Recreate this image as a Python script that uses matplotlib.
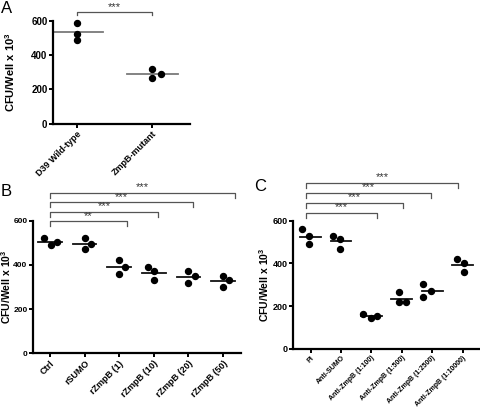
import numpy as np
import matplotlib
matplotlib.use("Agg")
import matplotlib.pyplot as plt
from matplotlib.transforms import blended_transform_factory

plt.rcParams['font.family'] = ['Liberation Sans', 'DejaVu Sans']
plt.rcParams['mathtext.fontset'] = 'custom'
plt.rcParams['mathtext.rm'] = 'Liberation Sans:bold'
plt.rcParams['mathtext.bf'] = 'Liberation Sans:bold'

# Panel A
a_labels = ['D39 Wild-type', 'ZmpB-mutant']
a_vals = [[585, 525, 485], [318, 268, 290]]
a_jit = [[0, 0, 0], [0, 0, 0.12]]
a_brackets = [(0, 1, 651, '***')]

# Panel B
b_labels = ['Ctrl', 'rSUMO', 'rZmpB (1)', 'rZmpB (10)', 'rZmpB (20)', 'rZmpB (50)']
b_vals = [[523, 489, 505], [520, 470, 495], [421, 360, 389],
          [390, 372, 330], [371, 348, 319], [351, 333, 300]]
b_jit = [[-0.16, 0.02, 0.21], [0, 0, 0.19], [0, 0, 0.17],
         [-0.18, 0, 0], [0, 0.19, 0], [0, 0.18, 0]]
b_brackets = [(0, 2.22, 598, '**'), (0, 3.12, 641, '***'),
              (0, 4.13, 685, '***'), (0, 5.35, 727, '***')]

# Panel C
c_labels = ['PI', 'Anti-SUMO', 'Anti-ZmpB (1:100)', 'Anti-ZmpB (1:500)',
            'Anti-ZmpB (1:2500)', 'Anti-ZmpB (1:10000)']
c_vals = [[559, 530, 489], [530, 514, 466], [162, 143, 156],
          [268, 218, 218], [302, 245, 273], [421, 400, 358]]
c_jit = [[-0.3, -0.05, -0.05], [-0.27, -0.03, -0.03], [-0.27, -0.02, 0.2],
         [-0.1, -0.1, 0.15], [-0.3, -0.3, -0.05], [-0.17, 0.05, 0.05]]
c_brackets = [(-0.15, 2.2, 637, '***'), (-0.15, 3.05, 684, '***'),
              (-0.15, 3.95, 731, '***'), (-0.15, 4.85, 778, '***')]

fig = plt.figure(figsize=(4.8, 4.17), dpi=100)


def panel(rect, labels, vals, jit, brackets, xlim, mean_col, tick_fs, lab_fs,
          ylab_x, drop, ylab_fs):
    ax = fig.add_axes(rect)
    for i, (v, j) in enumerate(zip(vals, jit)):
        xs = i + np.array(j)
        ax.plot(xs, v, 'o', color='black', ms=4.3, clip_on=False, zorder=3)
        m = np.mean(v)
        ax.plot([i - 0.34, i + 0.34], [m, m], color=mean_col, lw=1.3, zorder=2)
    for x0, x1, y, s in brackets:
        ax.plot([x0, x0, x1, x1], [y - drop, y, y, y - drop], color='#555555',
                lw=0.9, clip_on=False)
        ax.text((x0 + x1) / 2, y + 1, s, ha='center', va='bottom',
                fontsize=8, color='#333333')
    ax.set_xlim(*xlim)
    ax.set_ylim(0, 600)
    ax.set_yticks([0, 200, 400, 600])
    ax.set_xticks(range(len(labels)))
    ax.set_xticklabels(labels, rotation=45, ha='right', rotation_mode='anchor',
                       fontsize=lab_fs, fontweight='bold')
    for t in ax.get_yticklabels():
        t.set_fontsize(tick_fs)
        t.set_fontweight('bold')
    for s in ['top', 'right']:
        ax.spines[s].set_visible(False)
    for s in ['left', 'bottom']:
        ax.spines[s].set_linewidth(1.6)
    ax.tick_params(axis='both', width=1.4, length=3, pad=1)
    ax.set_ylabel('CFU/Well x 10$^{3}$', fontsize=ylab_fs, fontweight='bold')
    ax.yaxis.set_label_coords(ylab_x, 0.5,
                              transform=blended_transform_factory(fig.transFigure, ax.transAxes))
    return ax


panel([53 / 480, 1 - 123.7 / 417, 137 / 480, 103 / 417], a_labels, a_vals, a_jit,
      a_brackets, (-0.32, 1.5), '#7a7a7a', 7, 6.5, 17 / 480, 19, 8)
panel([33 / 480, 1 - 353.3 / 417, 207.7 / 480, 132.6 / 417], b_labels, b_vals, b_jit,
      b_brackets, (-0.49, 5.51), '#111111', 6, 6.5, 13 / 480, 23, 7.5)
panel([293 / 480, 1 - 349 / 417, 186 / 480, 128.3 / 417], c_labels, c_vals, c_jit,
      c_brackets, (-0.58, 5.54), '#111111', 6.5, 5, 271 / 480, 23, 7.5)

fig.text(1 / 480, 1 - 1 / 417, 'A', fontsize=12, va='top', ha='left')
fig.text(1 / 480, 1 - 184 / 417, 'B', fontsize=12, va='top', ha='left')
fig.text(254 / 480, 1 - 179 / 417, 'C', fontsize=12, va='top', ha='left')

fig.savefig('out.png', dpi=100)
